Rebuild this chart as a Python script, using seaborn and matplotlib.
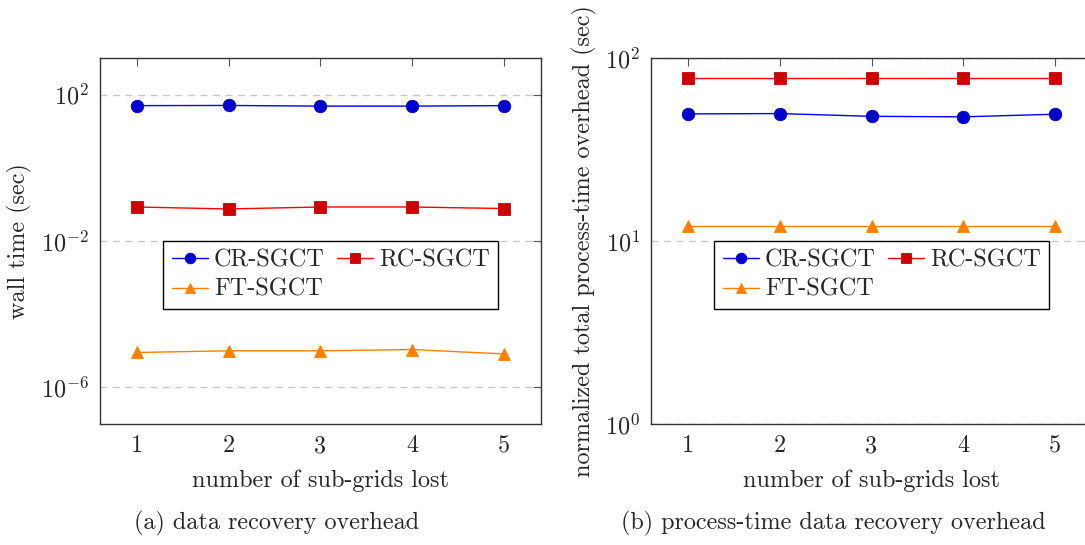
import numpy as np
import pandas as pd
import matplotlib
matplotlib.use("Agg")
import matplotlib.pyplot as plt
import matplotlib.ticker as mticker
import seaborn as sns

# ---- data ----
sub_grids_lost = [1, 2, 3, 4, 5]
series_names = ["CR-SGCT", "RC-SGCT", "FT-SGCT"]

wall_cr = [50.0, 50.5, 48.5, 48.5, 50.0]
wall_rc = [0.085, 0.075, 0.085, 0.085, 0.077]
wall_ft = [9.0e-6, 1.0e-5, 1.0e-5, 1.08e-5, 8.2e-6]

norm_cr = [49.5, 49.7, 48.0, 47.7, 49.3]
norm_rc = [77.5, 77.5, 77.5, 77.5, 77.5]
norm_ft = [12.1, 12.1, 12.1, 12.1, 12.1]

xlabel = "number of sub-grids lost"
ylabel_a = "wall time (sec)"
ylabel_b = "normalized total process-time overhead (sec)"
caption_a = "(a) data recovery overhead"
caption_b = "(b) process-time data recovery overhead"

sns.set_theme(style="white")
plt.rcParams["font.family"] = ["cmr10", "DejaVu Serif"]
plt.rcParams["mathtext.fontset"] = "cm"
plt.rcParams["axes.formatter.use_mathtext"] = True
plt.rcParams["axes.unicode_minus"] = True

FS = 17.4
line_colors = {"CR-SGCT": "#0000ff", "RC-SGCT": "#ff0000", "FT-SGCT": "#ff8000"}
mark_colors = {"CR-SGCT": "#0000cc", "RC-SGCT": "#cc0000", "FT-SGCT": "#ff8000"}
markers = {"CR-SGCT": "o", "RC-SGCT": "s", "FT-SGCT": "^"}
msize = {"CR-SGCT": 9, "RC-SGCT": 8.5, "FT-SGCT": 8.5}

W, H = 1085, 545
fig = plt.figure(figsize=(W / 100, H / 100), dpi=100)
ax_a = fig.add_axes([100 / W, 1 - 424 / H, 441 / W, 366 / H])
ax_b = fig.add_axes([651 / W, 1 - 424 / H, 441 / W, 366 / H])


def draw(ax, values):
    df = pd.DataFrame({
        "x": np.tile(sub_grids_lost, len(series_names)),
        "y": np.concatenate(values),
        "series": np.repeat(series_names, len(sub_grids_lost)),
    })
    for name in series_names:
        sub = df[df["series"] == name]
        sns.lineplot(data=sub, x="x", y="y", ax=ax, color=line_colors[name],
                     marker=markers[name], markersize=msize[name],
                     markerfacecolor=mark_colors[name],
                     markeredgecolor=mark_colors[name], markeredgewidth=0.6,
                     linewidth=1.0, label=name, zorder=3)


draw(ax_a, [wall_cr, wall_rc, wall_ft])
draw(ax_b, [norm_cr, norm_rc, norm_ft])

for ax in (ax_a, ax_b):
    ax.set_yscale("log")
    ax.set_xlim(0.6, 5.4)
    ax.set_xticks(sub_grids_lost)
    ax.set_xticklabels([str(v) for v in sub_grids_lost])
    ax.tick_params(axis="both", which="both", direction="in", top=True,
                   right=True, labelsize=FS, color="#555555", pad=8)
    ax.tick_params(axis="both", which="major", length=6, width=0.8)
    ax.tick_params(axis="both", which="minor", length=3.5, width=0.8)
    ax.set_xlabel(xlabel, fontsize=FS, labelpad=9)
    for s in ax.spines.values():
        s.set_color("#333333")
        s.set_linewidth(1.0)
    ax.grid(False)

ax_a.set_ylim(1e-7, 1e3)
ax_a.set_yticks([1e-6, 1e-2, 1e2])
ax_a.yaxis.set_minor_locator(mticker.NullLocator())
ax_a.yaxis.grid(True, which="major", linestyle=(0, (5, 4)), color="#c8c8c8",
                linewidth=1.0, zorder=0)
ax_a.set_ylabel(ylabel_a, fontsize=FS, labelpad=6)

ax_b.set_ylim(1, 100)
ax_b.set_yticks([1, 10, 100])
ax_b.yaxis.set_minor_locator(mticker.LogLocator(base=10, subs=np.arange(2, 10)))
ax_b.yaxis.set_minor_formatter(mticker.NullFormatter())
ax_b.yaxis.grid(True, which="major", linestyle=(0, (5, 4)), color="#c8c8c8",
                linewidth=1.0, zorder=0)
ax_b.set_ylabel(ylabel_b, fontsize=FS, labelpad=6)

for ax, anchor in ((ax_a, (0.143, 0.5)), (ax_b, (0.143, 0.5))):
    handles, labels = ax.get_legend_handles_labels()
    order = [0, 2, 1]  # row-major: CR, RC / FT
    leg = ax.legend([handles[i] for i in order], [labels[i] for i in order],
                    loc="upper left", bbox_to_anchor=anchor, ncol=2,
                    fontsize=FS, frameon=True, fancybox=False,
                    edgecolor="black", handlelength=1.5, handletextpad=0.25,
                    columnspacing=0.5, borderpad=0.35, labelspacing=0.3,
                    borderaxespad=0, markerscale=0.85)
    leg.get_frame().set_linewidth(1.0)
    leg.get_frame().set_alpha(1)

fig.text(277 / W, 1 - 523 / H, caption_a, fontsize=FS,
         ha="center", va="center")
fig.text(833 / W, 1 - 523 / H, caption_b, fontsize=FS, ha="center",
         va="center")

fig.savefig("out.png", dpi=100)
